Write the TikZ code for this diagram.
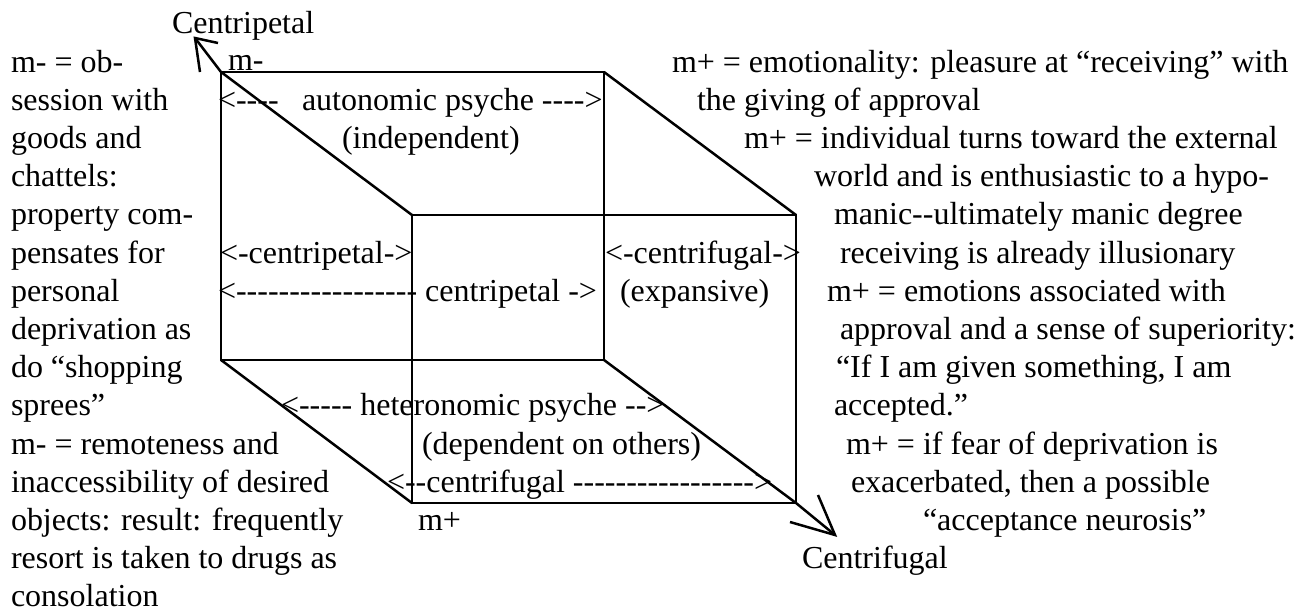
\documentclass[tikz,border=0pt]{standalone}
\usepackage{fontspec}
\newfontfamily\lserif{Liberation Serif}[Ligatures=TeXOff]
\begin{document}
\begin{tikzpicture}[x=1pt,y=-1pt,
  txt/.style={anchor=base west, inner sep=0pt, outer sep=0pt, font=\lserif\fontsize{32}{38}\selectfont},
  edge/.style={line width=2.5pt, line join=miter}]
\useasboundingbox (0,0) rectangle (1307,613);
% cube corners
\coordinate (A) at (221,72);
\coordinate (B) at (604,72);
\coordinate (C) at (604,360);
\coordinate (D) at (221,360);
\coordinate (E) at (412,215);
\coordinate (F) at (796,215);
\coordinate (G) at (796,503);
\coordinate (H) at (412,503);
\coordinate (CPtip) at (195,38);
\coordinate (CFtip) at (835,535);
\draw[edge] (A) -- (B) -- (C) -- (D) -- cycle;
\draw[edge] (E) -- (F) -- (G) -- (H) -- cycle;
\draw[edge] (A) -- (E);
\draw[edge] (B) -- (F);
\draw[edge] (D) -- (H);
\draw[edge] (C) -- (G);
% axis arrows
\draw[edge] (A) -- (CPtip);
\draw[edge] (CPtip) ++(23,5) -- (CPtip) -- ++(5,34);
\draw[edge] (G) -- (CFtip);
\draw[edge] (CFtip) ++(-45,-13) -- (CFtip) -- ++(-17,-40);
% axis labels
\node[txt] (cp) at (172,33) {Centripetal};
\node[txt] (cf) at (802,568.6) {Centrifugal};
\node[txt] (mminus) at (228,70) {m-};
\node[txt] (mplus) at (418,530.4) {m+};
% cube texts
\node[txt] (auL) at (218,110.2) {<----};
\node[txt] (auR) at (302,110.2) {autonomic psyche ---->};
\node[txt] (ind) at (342,148.4) {(independent)};
\node[txt] (cpA) at (220,263) {<-centripetal->};
\node[txt] (cfA) at (605,263) {<-centrifugal->};
\node[txt] (cpB) at (218,301.2) {<----------------- centripetal ->};
\node[txt] (exp) at (620,301.2) {(expansive)};
\node[txt] (het) at (281,415.8) {<----- heteronomic psyche -->};
\node[txt] (dep) at (422,454) {(dependent on others)};
\node[txt] (cfB) at (387,492.2) {<--centrifugal ----------------->};
% left column
\node[txt] (l0) at (11,72) {m- = ob-};
\node[txt] (l1) at (11,110.2) {session with};
\node[txt] (l2) at (11,148.4) {goods and};
\node[txt] (l3) at (11,186.6) {chattels:};
\node[txt] (l4) at (11,224.8) {property com-};
\node[txt] (l5) at (11,263) {pensates for};
\node[txt] (l6) at (11,301.2) {personal};
\node[txt] (l7) at (11,339.4) {deprivation as};
\node[txt] (l8) at (11,377.6) {do “shopping};
\node[txt] (l9) at (11,415.8) {sprees”};
\node[txt] (l10) at (11,454) {m- = remoteness and};
\node[txt] (l11) at (11,492.2) {inaccessibility of desired};
\node[txt] (l12) at (11,530.4) {objects: result: frequently};
\node[txt] (l13) at (11,568.6) {resort is taken to drugs as};
\node[txt] (l14) at (11,606.8) {consolation};
% right column
\node[txt] (r0) at (672,72) {m+ = emotionality: pleasure at “receiving” with};
\node[txt] (r1) at (697,110.2) {the giving of approval};
\node[txt] (r2) at (744,148.4) {m+ = individual turns toward the external};
\node[txt] (r3) at (814,186.6) {world and is enthusiastic to a hypo-};
\node[txt] (r4) at (834,224.8) {manic--ultimately manic degree};
\node[txt] (r5) at (840,263) {receiving is already illusionary};
\node[txt] (r6) at (827,301.2) {m+ = emotions associated with};
\node[txt] (r7) at (840,339.4) {approval and a sense of superiority:};
\node[txt] (r8) at (836,377.6) {“If I am given something, I am};
\node[txt] (r9) at (834,415.8) {accepted.”};
\node[txt] (r10) at (846,454) {m+ = if fear of deprivation is};
\node[txt] (r11) at (851,492.2) {exacerbated, then a possible};
\node[txt] (r12) at (923,530.4) {“acceptance neurosis”};
\end{tikzpicture}
\end{document}
